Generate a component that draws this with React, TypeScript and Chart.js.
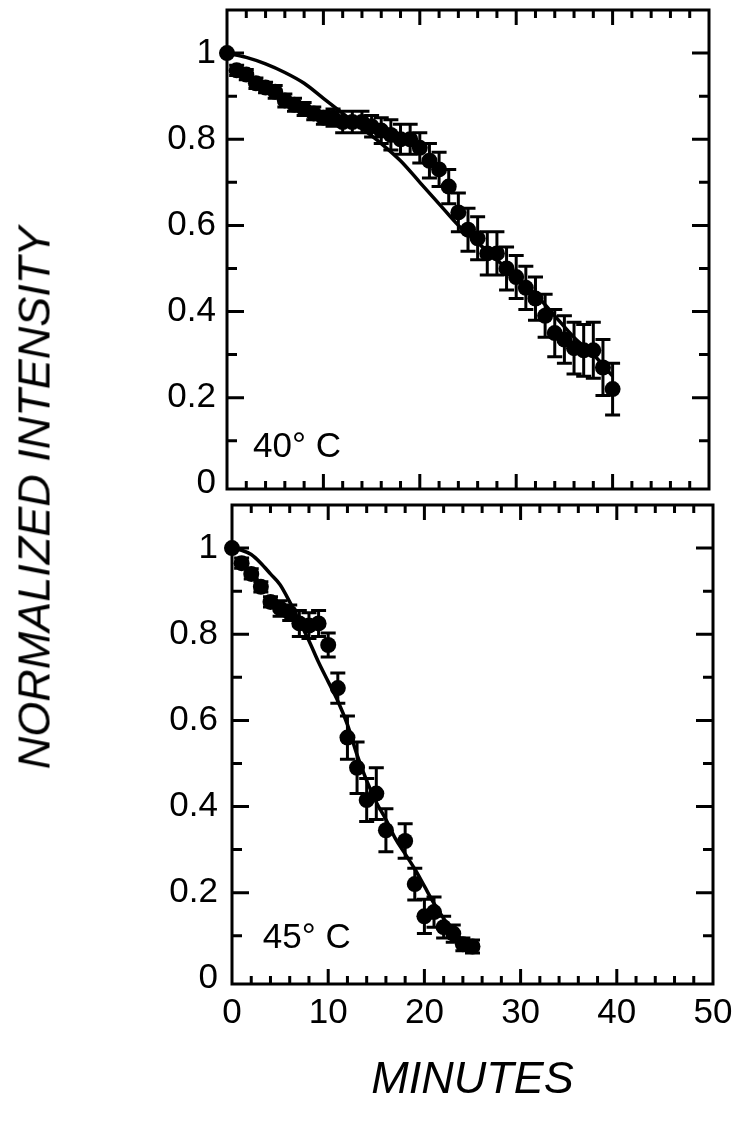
import { useEffect, useRef } from "react";
import { Chart, registerables } from "chart.js";

Chart.register(...registerables);

// ---- 40 °C panel ----
const minutes40 = [0, 1, 2, 3, 4, 5, 6, 7, 8, 9, 10, 11, 12, 13, 14, 15, 16, 17, 18, 19, 20, 21, 22, 23, 24, 25, 26, 27, 28, 29, 30, 31, 32, 33, 34, 35, 36, 37, 38, 39, 40];
const intensity40 = [1.0, 0.96, 0.95, 0.93, 0.92, 0.91, 0.89, 0.88, 0.87, 0.86, 0.85, 0.85, 0.84, 0.84, 0.84, 0.83, 0.82, 0.81, 0.8, 0.8, 0.78, 0.75, 0.73, 0.69, 0.63, 0.59, 0.57, 0.535, 0.535, 0.5, 0.48, 0.455, 0.43, 0.39, 0.35, 0.335, 0.315, 0.31, 0.31, 0.27, 0.22];
const error40 = [0, 0.012, 0.012, 0.012, 0.012, 0.015, 0.015, 0.015, 0.015, 0.015, 0.015, 0.02, 0.025, 0.025, 0.025, 0.025, 0.03, 0.035, 0.035, 0.035, 0.035, 0.04, 0.04, 0.04, 0.045, 0.05, 0.05, 0.05, 0.05, 0.05, 0.05, 0.05, 0.05, 0.05, 0.055, 0.055, 0.06, 0.06, 0.065, 0.065, 0.06];
const fitMinutes40 = [0, 2, 4, 6, 8, 10, 12, 14, 16, 18, 20, 22, 24, 26, 28, 30, 32, 34, 36, 38, 40];
const fit40 = [1.0, 0.99, 0.975, 0.955, 0.93, 0.895, 0.86, 0.825, 0.79, 0.75, 0.7, 0.65, 0.6, 0.56, 0.52, 0.48, 0.44, 0.39, 0.34, 0.3, 0.25];

// ---- 45 °C panel ----
const minutes45 = [0, 1, 2, 3, 4, 5, 6, 7, 8, 9, 10, 11, 12, 13, 14, 15, 16, 18, 19, 20, 21, 22, 23, 24, 25];
const intensity45 = [1.0, 0.965, 0.94, 0.91, 0.875, 0.86, 0.85, 0.825, 0.82, 0.825, 0.775, 0.675, 0.56, 0.49, 0.415, 0.43, 0.345, 0.32, 0.22, 0.145, 0.155, 0.12, 0.105, 0.08, 0.075];
const error45 = [0, 0.012, 0.012, 0.012, 0.012, 0.018, 0.018, 0.03, 0.03, 0.03, 0.028, 0.035, 0.05, 0.06, 0.05, 0.06, 0.05, 0.04, 0.037, 0.04, 0.035, 0.025, 0.02, 0.015, 0.015];
const fitMinutes45 = [0, 1, 2, 3, 4, 5, 6, 7, 8, 9, 10, 11, 12, 13, 14, 15, 16, 17, 18, 19, 20, 21, 22, 23, 24, 25];
const fit45 = [1.0, 0.995, 0.985, 0.965, 0.94, 0.915, 0.875, 0.83, 0.785, 0.735, 0.69, 0.645, 0.59, 0.52, 0.46, 0.41, 0.37, 0.325, 0.29, 0.255, 0.215, 0.175, 0.14, 0.11, 0.09, 0.075];

// ---- ticks ----
const xMajorTicks = [0, 10, 20, 30, 40, 50];
const xTickLabels = ["0", "10", "20", "30", "40", "50"];
const xMinorTicks = [2, 4, 6, 8, 12, 14, 16, 18, 22, 24, 26, 28, 32, 34, 36, 38, 42, 44, 46, 48];
const yMajorTicks = [0, 0.2, 0.4, 0.6, 0.8, 1];
const yTickLabels = ["0", "0.2", "0.4", "0.6", "0.8", "1"];
const yMinorTicks = [0.1, 0.3, 0.5, 0.7, 0.9];

const FONT = '"Liberation Sans", Arial, Helvetica, sans-serif';
const INK = "#000";

const frameTicks = {
  id: "frameTicks",
  beforeDatasetsDraw(chart: any) {
    const { ctx, chartArea: a, scales } = chart;
    const x = scales.x;
    const y = scales.y;
    ctx.save();
    ctx.strokeStyle = INK;
    ctx.lineCap = "butt";
    ctx.lineWidth = 3;
    ctx.strokeRect(a.left, a.top, a.right - a.left, a.bottom - a.top);
    ctx.beginPath();
    for (const t of x.ticks) {
      const v = t.value;
      if (v <= x.min || v >= x.max) continue;
      const p = x.getPixelForValue(v);
      const len = xMajorTicks.includes(v) ? 15 : 8;
      ctx.moveTo(p, a.bottom);
      ctx.lineTo(p, a.bottom - len);
      ctx.moveTo(p, a.top);
      ctx.lineTo(p, a.top + len);
    }
    for (const t of y.ticks) {
      const v = t.value;
      if (v < 0.05 || v > 1.05) continue;
      const p = y.getPixelForValue(v);
      const len = yMajorTicks.includes(v) ? 17 : 10;
      ctx.moveTo(a.left, p);
      ctx.lineTo(a.left + len, p);
      ctx.moveTo(a.right, p);
      ctx.lineTo(a.right - len, p);
    }
    ctx.stroke();
    ctx.restore();
  },
};

const errorBars = {
  id: "errorBars",
  beforeDatasetsDraw(chart: any, _args: any, opts: any) {
    const { ctx, scales } = chart;
    const x = scales.x;
    const y = scales.y;
    const data = chart.data.datasets[0].data as { x: number; y: number }[];
    const errs: number[] = opts.errors || [];
    ctx.save();
    ctx.strokeStyle = INK;
    ctx.lineWidth = 3;
    ctx.beginPath();
    data.forEach((d, i) => {
      const e = errs[i] || 0;
      if (!e) return;
      const px = x.getPixelForValue(d.x);
      const y1 = y.getPixelForValue(d.y + e);
      const y2 = y.getPixelForValue(d.y - e);
      const hw = 7.5;
      ctx.moveTo(px, y1);
      ctx.lineTo(px, y2);
      ctx.moveTo(px - hw, y1);
      ctx.lineTo(px + hw, y1);
      ctx.moveTo(px - hw, y2);
      ctx.lineTo(px + hw, y2);
    });
    ctx.stroke();
    ctx.restore();
  },
};

const panelLabel = {
  id: "panelLabel",
  afterDatasetsDraw(chart: any, _args: any, opts: any) {
    if (!opts || !opts.text) return;
    const { ctx, scales } = chart;
    ctx.save();
    ctx.fillStyle = INK;
    ctx.font = `35px ${FONT}`;
    ctx.textBaseline = "alphabetic";
    ctx.textAlign = "left";
    ctx.fillText(opts.text, scales.x.getPixelForValue(opts.x), scales.y.getPixelForValue(opts.y));
    ctx.restore();
  },
};

type PanelSpec = {
  minutes: number[];
  values: number[];
  errors: number[];
  fitX: number[];
  fitY: number[];
  label: string;
  labelX: number;
  labelY: number;
  yAxisWidth: number;
  yPadding: number;
  xHeight: number;
  padding: { left: number; right: number; top: number; bottom: number };
  showX: boolean;
};

function buildConfig(s: PanelSpec): any {
  return {
    type: "scatter",
    data: {
      datasets: [
        {
          type: "scatter",
          data: s.minutes.map((m, i) => ({ x: m, y: s.values[i] })),
          pointRadius: 8,
          pointBackgroundColor: INK,
          pointBorderWidth: 0,
          pointBorderColor: INK,
          clip: false,
          order: 0,
        },
        {
          type: "line",
          data: s.fitX.map((m, i) => ({ x: m, y: s.fitY[i] })),
          borderColor: INK,
          borderWidth: 3.5,
          pointRadius: 0,
          cubicInterpolationMode: "monotone",
          fill: false,
          clip: false,
          order: 1,
        },
      ],
    },
    options: {
      responsive: false,
      animation: false,
      events: [],
      layout: { padding: s.padding },
      plugins: {
        legend: { display: false },
        tooltip: { enabled: false },
        errorBars: { errors: s.errors },
        panelLabel: { text: s.label, x: s.labelX, y: s.labelY },
      },
      scales: {
        x: {
          type: "linear",
          min: 0,
          max: 50,
          grid: { display: false, drawTicks: false },
          border: { display: false },
          afterBuildTicks: (scale: any) => {
            scale.ticks = [...xMajorTicks, ...xMinorTicks].sort((a, b) => a - b).map((value) => ({ value }));
          },
          afterFit: (scale: any) => {
            scale.height = s.xHeight;
            scale.paddingLeft = 0;
            scale.paddingRight = 0;
          },
          ticks: {
            display: s.showX,
            autoSkip: false,
            maxRotation: 0,
            padding: 8,
            color: INK,
            font: { family: FONT, size: 35 },
            callback: (value: number) => {
              const i = xMajorTicks.indexOf(value);
              return i >= 0 ? xTickLabels[i] : "";
            },
          },
          title: s.showX
            ? {
                display: true,
                text: "MINUTES",
                color: INK,
                font: { family: FONT, size: 45, style: "italic" },
                padding: { top: 0, bottom: 14 },
              }
            : { display: false },
        },
        y: {
          type: "linear",
          min: -0.012,
          max: 1.1,
          grid: { display: false, drawTicks: false },
          border: { display: false },
          afterBuildTicks: (scale: any) => {
            scale.ticks = [...yMajorTicks, ...yMinorTicks].sort((a, b) => a - b).map((value) => ({ value }));
          },
          afterFit: (scale: any) => {
            scale.width = s.yAxisWidth;
            scale.paddingTop = 0;
            scale.paddingBottom = 0;
          },
          ticks: {
            autoSkip: false,
            padding: s.yPadding,
            color: INK,
            font: { family: FONT, size: 35 },
            callback: (value: number) => {
              const i = yMajorTicks.indexOf(value);
              return i >= 0 ? yTickLabels[i] : "";
            },
          },
        },
      },
    },
    plugins: [frameTicks, errorBars, panelLabel],
  };
}

export default function App() {
  const topRef = useRef<HTMLCanvasElement>(null);
  const botRef = useRef<HTMLCanvasElement>(null);

  useEffect(() => {
    const top = new Chart(
      topRef.current as HTMLCanvasElement,
      buildConfig({
        minutes: minutes40,
        values: intensity40,
        errors: error40,
        fitX: fitMinutes40,
        fitY: fit40,
        label: "40\u00B0 C",
        labelX: 2.7,
        labelY: 0.062,
        yAxisWidth: 227,
        yPadding: 11,
        xHeight: 0,
        padding: { left: 0, right: 25, top: 10, bottom: 5 },
        showX: false,
      })
    );
    const bottom = new Chart(
      botRef.current as HTMLCanvasElement,
      buildConfig({
        minutes: minutes45,
        values: intensity45,
        errors: error45,
        fitX: fitMinutes45,
        fitY: fit45,
        label: "45\u00B0 C",
        labelX: 3.2,
        labelY: 0.071,
        yAxisWidth: 232,
        yPadding: 14,
        xHeight: 137,
        padding: { left: 0, right: 21, top: 5, bottom: 0 },
        showX: true,
      })
    );
    return () => {
      top.destroy();
      bottom.destroy();
    };
  }, []);

  return (
    <div style={{ position: "absolute", left: 0, top: 0, width: 734, height: 1121, background: "#fff", overflow: "hidden" }}>
      <canvas ref={topRef} width={734} height={497} style={{ position: "absolute", left: 0, top: 0 }} />
      <canvas ref={botRef} width={734} height={624} style={{ position: "absolute", left: 0, top: 497 }} />
      <div
        style={{
          position: "absolute",
          left: 34,
          top: 498,
          transform: "translate(-50%, -50%) rotate(-90deg)",
          font: `italic 45px ${FONT}`,
          whiteSpace: "nowrap",
          color: INK,
          lineHeight: 1,
        }}
      >
        NORMALIZED INTENSITY
      </div>
    </div>
  );
}
